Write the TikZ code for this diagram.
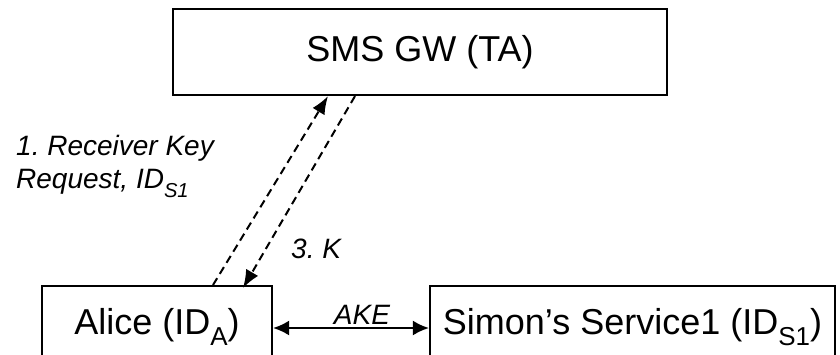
\documentclass[tikz,border=0pt]{standalone}
\usepackage{fontspec}
\setmainfont{Liberation Sans}
\usepackage{tikz}
\usetikzlibrary{arrows.meta, positioning}
\newcommand{\idx}[1]{\raisebox{-.33em}{\scalebox{0.72}{#1}}}
\frenchspacing

\begin{document}
\begin{tikzpicture}[x=1pt, y=-1pt,
        party/.style={draw, line width=2.2pt, inner xsep=0pt, inner ysep=22pt,
            text height=26pt, text depth=60pt, anchor=north,
            font=\fontsize{36}{43}\selectfont},
        msg/.style={line width=2pt, dash pattern=on 8pt off 5pt,
            -{Latex[length=18pt, width=14pt]}},
        lbl/.style={inner sep=0pt, font=\fontsize{28}{33}\selectfont\itshape}]
        \useasboundingbox (0,0) rectangle (840,354);
        \clip (0,0) rectangle (840,354);
        % trusted authority on top, the two parties below
        \node[draw, line width=2.2pt, minimum width=494pt, minimum height=86pt,
            font=\fontsize{36}{43}\selectfont] (gw) at (420,52) {SMS GW (TA)};
        \node[party, minimum width=230pt] (alice) at (157,285) {Alice (ID\idx{A})};
        \node[party, minimum width=405pt] (simon) at (632.5,285) {Simon’s Service1 (ID\idx{S1})};
        % key request and key delivery
        \draw[msg] ([xshift=56pt]alice.north) -- ([xshift=-92pt]gw.south);
        \draw[msg] ([xshift=-65pt]gw.south) -- ([xshift=86pt, yshift=-3pt]alice.north);
        \node[lbl, anchor=north west, align=left] (req) at (16,135)
            {1. Receiver Key\\Request, ID\idx{S1}};
        \node[lbl, anchor=base west] (key) at (291,258) {3. K};
        % authenticated key exchange
        \path (alice.north east) ++(0,43) coordinate (ake);
        \draw[line width=2pt, {Latex[length=16pt, width=15pt]}-{Latex[length=16pt, width=15pt]}]
            (ake) -- (ake -| simon.west)
            node[lbl, midway, above=3pt, xshift=11pt] (akelbl) {AKE};
\end{tikzpicture}
\end{document}
